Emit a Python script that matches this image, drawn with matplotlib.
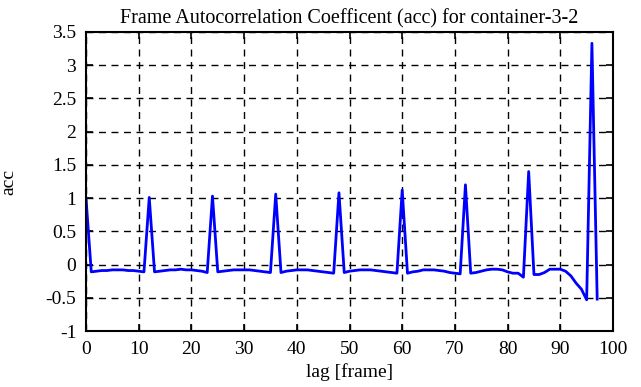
import matplotlib
matplotlib.use("Agg")
import matplotlib.pyplot as plt
import numpy as np

LAGS = list(range(98))
ACC = [
    1.00,
    -0.11, -0.10, -0.09, -0.09, -0.08, -0.08, -0.08, -0.09, -0.09, -0.10, -0.11,
    1.01,
    -0.11, -0.10, -0.09, -0.08, -0.08, -0.07, -0.08, -0.08, -0.09, -0.10, -0.12,
    1.03,
    -0.11, -0.10, -0.09, -0.08, -0.08, -0.08, -0.08, -0.09, -0.10, -0.11, -0.12,
    1.06,
    -0.12, -0.10, -0.09, -0.08, -0.08, -0.08, -0.09, -0.10, -0.11, -0.12, -0.13,
    1.08,
    -0.12, -0.10, -0.09, -0.08, -0.08, -0.08, -0.09, -0.10, -0.11, -0.12, -0.13,
    1.12,
    -0.13, -0.11, -0.10, -0.08, -0.08, -0.08, -0.09, -0.10, -0.12, -0.13, -0.14,
    1.20,
    -0.13, -0.12, -0.10, -0.08, -0.07, -0.07, -0.08, -0.11, -0.13, -0.13, -0.19,
    1.40,
    -0.15, -0.15, -0.12, -0.07, -0.07, -0.07, -0.10, -0.17, -0.28, -0.37, -0.53,
    3.33,
    -0.52,
]

X_TICKS = list(range(0, 101, 10))
Y_TICKS = [-1, -0.5, 0, 0.5, 1, 1.5, 2, 2.5, 3, 3.5]
Y_LABELS = ["-1", "-0.5", "0", "0.5", "1", "1.5", "2", "2.5", "3", "3.5"]

plt.rcParams["font.family"] = ["Liberation Serif", "DejaVu Serif"]
plt.rcParams["axes.unicode_minus"] = False

fig = plt.figure(figsize=(6.41, 3.87), dpi=100)
ax = fig.add_axes([86 / 641, 1 - 331 / 387, 527 / 641, 299 / 387])

ax.plot(LAGS, ACC, color="#0000ff", linewidth=2)

ax.set_xlim(0, 100)
ax.set_ylim(-1, 3.5)
ax.set_xticks(X_TICKS)
ax.set_yticks(Y_TICKS)
ax.set_yticklabels(Y_LABELS)
ax.tick_params(direction="in", length=5, width=1.2, top=True, right=True,
               labelsize=14, pad=7)
ax.grid(True, color="black", linestyle=(0, (5, 4)), linewidth=1)
for spine in ax.spines.values():
    spine.set_linewidth(1.5)

ax.set_title("Frame Autocorrelation Coefficent (acc) for container-3-2",
             fontsize=14.5, pad=6)
ax.set_xlabel("lag [frame]", fontsize=14, labelpad=4)
ax.set_ylabel("acc", fontsize=14, labelpad=20)

fig.savefig("out.png", dpi=100)
